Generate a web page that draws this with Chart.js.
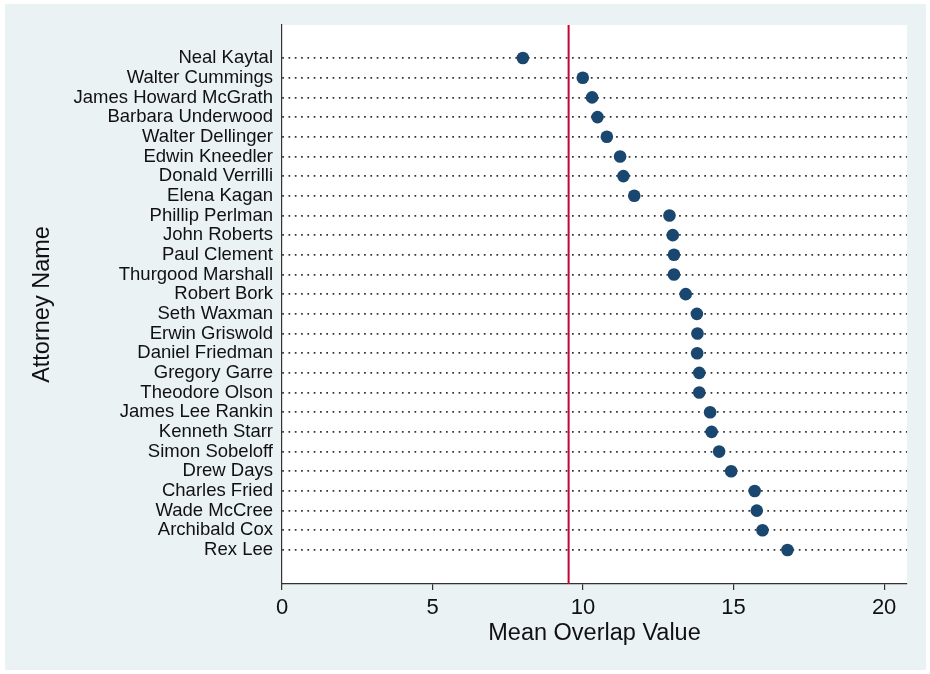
<!DOCTYPE html>
<html>
<head>
<meta charset="utf-8">
<script src="https://cdn.jsdelivr.net/npm/chart.js@4"></script>
<style>
  html, body { margin: 0; padding: 0; background: #fff; }
  #wrap { position: relative; width: 930px; height: 674px; }
</style>
</head>
<body>
<div id="wrap"><canvas id="overlap" width="930" height="674"></canvas></div>
<script>
// attorneys, top to bottom as in the plot
const attorneys = [
  "Neal Kaytal", "Walter Cummings", "James Howard McGrath", "Barbara Underwood",
  "Walter Dellinger", "Edwin Kneedler", "Donald Verrilli", "Elena Kagan",
  "Phillip Perlman", "John Roberts", "Paul Clement", "Thurgood Marshall",
  "Robert Bork", "Seth Waxman", "Erwin Griswold", "Daniel Friedman",
  "Gregory Garre", "Theodore Olson", "James Lee Rankin", "Kenneth Starr",
  "Simon Sobeloff", "Drew Days", "Charles Fried", "Wade McCree",
  "Archibald Cox", "Rex Lee"
];
const meanOverlap = [
  8.0, 9.99, 10.3, 10.48, 10.79, 11.23, 11.34, 11.7,
  12.87, 12.98, 13.02, 13.02, 13.41, 13.78, 13.8, 13.79,
  13.86, 13.86, 14.22, 14.27, 14.52, 14.92, 15.7, 15.77,
  15.96, 16.79
];
const overallMean = 9.52;
const xTicks = [0, 5, 10, 15, 20];

const font = "'Liberation Sans', Arial, sans-serif";

// stata-ish background: light panel, white plot region
const backdrop = {
  id: "backdrop",
  beforeDraw(chart) {
    const ctx = chart.ctx;
    const a = chart.chartArea;
    ctx.save();
    ctx.fillStyle = "#ffffff";
    ctx.fillRect(0, 0, chart.width, chart.height);
    ctx.fillStyle = "#eaf2f3";
    ctx.fillRect(5, 4, 921, 666);
    ctx.fillStyle = "#ffffff";
    ctx.fillRect(a.left, a.top, a.right - a.left, a.bottom - a.top);
    ctx.restore();
  }
};

const points = meanOverlap.map((v, i) => ({ x: v, y: i + 1 }));

new Chart(document.getElementById("overlap"), {
  type: "scatter",
  data: {
    datasets: [
      {
        label: "Mean overlap",
        data: points,
        backgroundColor: "#1a476f",
        borderColor: "#1a476f",
        borderWidth: 0,
        pointRadius: 6.3,
        pointHoverRadius: 6.3
      },
      {
        // overall mean, drawn as a vertical rule
        type: "line",
        label: "Overall mean",
        data: [{ x: overallMean, y: -5 }, { x: overallMean, y: 40 }],
        borderColor: "#c10534",
        borderWidth: 2,
        pointRadius: 0,
        fill: false
      }
    ]
  },
  options: {
    responsive: false,
    animation: false,
    events: [],
    layout: { padding: { top: 25, right: 23, left: 0, bottom: 0 } },
    plugins: {
      legend: { display: false },
      tooltip: { enabled: false }
    },
    scales: {
      x: {
        type: "linear",
        min: 0,
        max: 20.76,
        afterBuildTicks: (scale) => {
          scale.ticks = xTicks.map((v) => ({ value: v }));
        },
        afterFit: (scale) => { scale.height = 90; },
        border: { display: true, color: "#333", width: 1.2 },
        grid: {
          drawOnChartArea: false,
          drawTicks: true,
          tickLength: 6,
          color: "#333",
          lineWidth: 1.2
        },
        ticks: {
          padding: 5,
          color: "#111",
          font: { family: font, size: 22 },
          maxRotation: 0
        },
        title: {
          display: true,
          text: "Mean Overlap Value",
          color: "#111",
          font: { family: font, size: 23.5 },
          padding: { top: 0, bottom: 26 }
        }
      },
      y: {
        type: "linear",
        reverse: true,
        min: -0.68,
        max: 27.73,
        afterBuildTicks: (scale) => {
          scale.ticks = attorneys.map((n, i) => ({ value: i + 1 }));
        },
        afterFit: (scale) => { scale.width = 282; },
        // in v4 border.dash sets the gridline dash; the axis line stays solid
        border: { display: true, color: "#333", width: 1.2, dash: [1.7, 4.6] },
        grid: {
          drawTicks: false,
          color: "#333",
          lineWidth: 1.7
        },
        ticks: {
          autoSkip: false,
          padding: 9,
          color: "#111",
          font: { family: font, size: 18.5 },
          callback: (v) => attorneys[v - 1] || ""
        },
        title: {
          display: true,
          text: "Attorney Name",
          color: "#111",
          font: { family: font, size: 23.5 },
          padding: { top: 28, bottom: 0 }
        }
      }
    }
  },
  plugins: [backdrop]
});
</script>
</body>
</html>
